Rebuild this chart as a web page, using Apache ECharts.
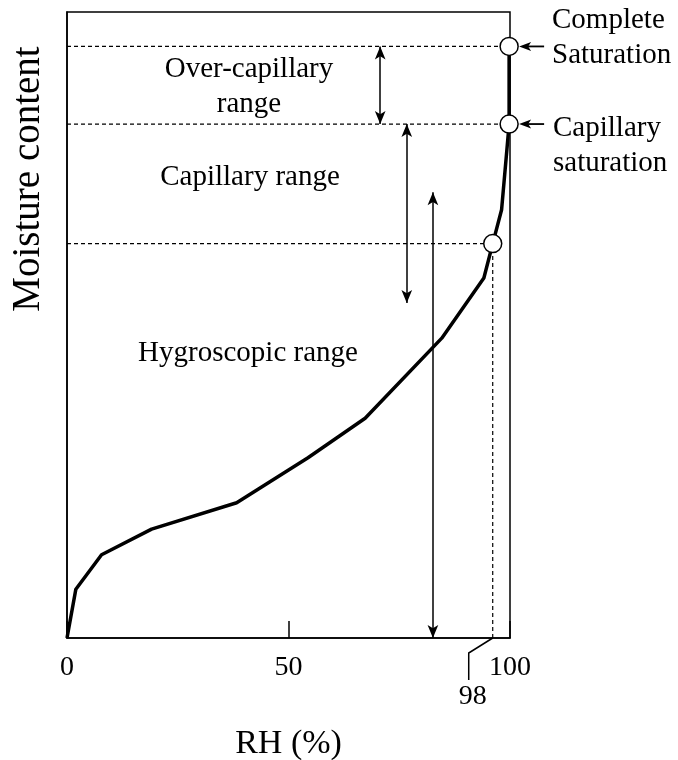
<!DOCTYPE html>
<html>
<head>
<meta charset="utf-8">
<script src="https://cdn.jsdelivr.net/npm/echarts@6/dist/echarts.min.js"></script>
<style>
  html, body { margin: 0; padding: 0; background: #fff; }
  #chart { width: 678px; height: 760px; }
</style>
</head>
<body>
<div id="chart"></div>
<script>
// sorption curve (RH %, moisture content in arbitrary units 0..100)
const curveRH = [0, 2.0, 7.8, 19.1, 38.3, 54.4, 67.3, 84.6, 94.1, 96.1, 98.1, 99.3, 99.8, 99.8];
const curveMC = [0, 7.8, 13.3, 17.4, 21.6, 28.8, 35.1, 47.9, 57.5, 63.0, 68.4, 78.0, 82.1, 94.5];

// marked states: hygroscopic limit (98 %), capillary saturation, complete saturation
const markRH = [96.1, 99.8, 99.8];
const markMC = [63.0, 82.1, 94.5];

// range arrows: x position, from, to
const rangeX = [70.7, 76.7, 82.6];
const rangeFrom = [94.5, 82.1, 71.2];
const rangeTo = [82.1, 53.5, 0];

const xTicks = [0, 50, 100];

const FONT = 'Liberation Serif';
const chart = echarts.init(document.getElementById('chart'));

const curve = curveRH.map((x, i) => [x, curveMC[i]]);
const marks = markRH.map((x, i) => [x, markMC[i]]);

// dashed guide lines from the y axis to each marked point, plus the drop line at 98 %
const dashSeries = marks.map(p => ({
  type: 'line',
  data: [[0, p[1]], [p[0], p[1]]],
  symbol: 'none',
  lineStyle: { color: '#000', width: 1.2, type: [4, 3] },
  silent: true,
  z: 2
}));
dashSeries.push({
  type: 'line',
  data: [[markRH[0], 0], [markRH[0], markMC[0]]],
  symbol: 'none',
  lineStyle: { color: '#000', width: 1.2, type: [4, 3] },
  silent: true,
  z: 2
});

const arrowLines = rangeX.map((x, i) => [
  { coord: [x, rangeFrom[i]], symbol: 'arrow' },
  { coord: [x, rangeTo[i]], symbol: 'arrow' }
]);

chart.setOption({
  backgroundColor: '#fff',
  animation: false,
  grid: {
    left: 67, right: 168, top: 12, bottom: 122,
    outerBoundsMode: 'none', containLabel: false,
    show: true, borderColor: '#000', borderWidth: 1.5
  },
  xAxis: {
    type: 'value', min: 0, max: 100, interval: 50,
    name: 'RH (%)', nameLocation: 'middle', nameGap: 89,
    nameTextStyle: { fontFamily: FONT, fontSize: 34, color: '#000' },
    axisLine: { lineStyle: { color: '#000', width: 1.5 } },
    axisTick: { inside: true, length: 17, lineStyle: { color: '#000', width: 1.5 } },
    axisLabel: {
      fontFamily: FONT, fontSize: 28, color: '#000', margin: 16,
      formatter: v => xTicks.includes(v) ? String(v) : ''
    },
    splitLine: { show: false }
  },
  yAxis: {
    type: 'value', min: 0, max: 100,
    axisLine: { show: true, lineStyle: { color: '#000', width: 1.5 } },
    axisTick: { show: false },
    axisLabel: { show: false },
    splitLine: { show: false }
  },
  series: [
    ...dashSeries,
    {
      type: 'line',
      data: curve,
      symbol: 'none',
      lineStyle: { color: '#000', width: 3.5 },
      z: 3,
      markLine: {
        silent: true,
        symbolSize: [8, 13],
        label: { show: false },
        lineStyle: { color: '#000', width: 1.5, type: 'solid' },
        data: arrowLines
      }
    },
    {
      type: 'scatter',
      data: marks,
      symbol: 'circle',
      symbolSize: 18,
      itemStyle: { color: '#fff', borderColor: '#000', borderWidth: 1.5, opacity: 1 },
      z: 5
    }
  ]
});

const px = v => chart.convertToPixel({ gridIndex: 0 }, v);
const p98 = px([markRH[0], 0]);
const txt = (text, x, y, align, size) => ({
  type: 'text', x, y,
  style: {
    text, fill: '#000', font: (size || 29) + 'px "' + FONT + '"',
    align: align || 'center', verticalAlign: 'middle', lineHeight: 35
  }
});

// pointers from the right-hand labels to the saturation points
const pointers = [];
[2, 1].forEach(i => {
  const c = px(marks[i]);
  const tip = c[0] + 10;
  pointers.push({
    type: 'line',
    shape: { x1: tip + 8, y1: c[1], x2: tip + 25, y2: c[1] },
    style: { stroke: '#000', lineWidth: 1.8 }
  });
  pointers.push({
    type: 'polygon',
    shape: { points: [[tip, c[1]], [tip + 12, c[1] - 4.5], [tip + 9, c[1]], [tip + 12, c[1] + 4.5]] },
    style: { fill: '#000' }
  });
});

chart.setOption({
  graphic: [
    {
      type: 'polyline',
      shape: { points: [[p98[0], p98[1]], [p98[0] - 24, p98[1] + 15], [p98[0] - 24, p98[1] + 42]] },
      style: { stroke: '#000', lineWidth: 1.5, fill: null }
    },
    txt('98', p98[0] - 20, p98[1] + 59, 'center', 28),
    {
      type: 'text', x: 29, y: 179, rotation: Math.PI / 2,
      style: { text: 'Moisture content', fill: '#000', font: '39px "' + FONT + '"', align: 'center', verticalAlign: 'middle' }
    },
    txt('Over-capillary\nrange', 249, 87),
    txt('Capillary range', 250, 177),
    txt('Hygroscopic range', 248, 353),
    txt('Complete\nSaturation', 552, 38, 'left'),
    txt('Capillary\nsaturation', 553, 146, 'left'),
    ...pointers
  ]
});
</script>
</body>
</html>
